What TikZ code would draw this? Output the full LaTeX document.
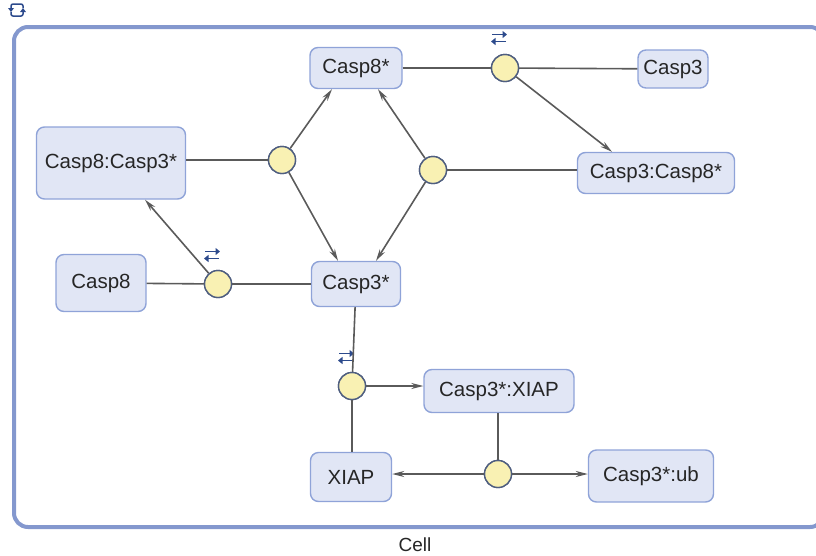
\documentclass[tikz,border=0pt]{standalone}
\usepackage{fontspec}
\setmainfont{Liberation Sans}
\usetikzlibrary{arrows.meta}
\definecolor{spfill}{HTML}{E1E6F5}
\definecolor{spdraw}{HTML}{8FA3D8}
\definecolor{prfill}{HTML}{F9F1B3}
\definecolor{prdraw}{HTML}{4F5E80}
\definecolor{compdraw}{HTML}{8498CE}
\definecolor{edgec}{HTML}{5A5A5A}
\definecolor{iconc}{HTML}{2C4A8C}
\tikzset{
  species/.style={draw=spdraw, fill=spfill, line width=1.4pt, rounded corners=8pt,
    inner sep=0pt, font=\fontsize{20.5}{24}\selectfont, text=black!85},
  proc/.style={circle, draw=prdraw, fill=prfill, line width=1.4pt, minimum size=27pt, inner sep=0pt},
  link/.style={draw=edgec, line width=1.6pt},
  prod/.style={link, -{Stealth[length=12pt,width=6pt]}},
  revicon/.pic={
    \draw[iconc, line width=1.8pt, -{Triangle[length=4.5pt,width=7pt]}] (-7,-3.5) -- (8,-3.5);
    \draw[iconc, line width=1.8pt, -{Triangle[length=4.5pt,width=7pt]}] (7,3.5) -- (-8,3.5);
  }
}
\begin{document}
\begin{tikzpicture}[x=1pt,y=-1pt]
\useasboundingbox (0,0) rectangle (816,555);
% compartment
\draw[compdraw, line width=4pt, rounded corners=14pt] (14,27) rectangle (824,527);
\node[font=\fontsize{19}{22}\selectfont, text=black!85] (cell) at (415,545) {Cell};
% top-left icon
\draw[iconc, line width=1.5pt, rounded corners=2pt] (11,12) -- (11,16) -- (23,16) -- (23,12);
\draw[iconc, line width=1.5pt, rounded corners=2pt] (23,8) -- (23,4) -- (11,4) -- (11,8);
\fill[iconc] (8,8) -- (14,8) -- (11,12) -- cycle;
\fill[iconc] (20,12) -- (26,12) -- (23,8) -- cycle;
% species
\node[species, minimum width=92pt, minimum height=41pt] (c8s) at (356,68) {Casp8*};
\node[species, minimum width=70pt, minimum height=38pt] (c3) at (673,69) {Casp3};
\node[species, minimum width=149pt, minimum height=72pt] (c8c3s) at (111,163) {Casp8:Casp3*};
\node[species, minimum width=157pt, minimum height=41pt] (c3c8s) at (656,173) {Casp3:Casp8*};
\node[species, minimum width=90pt, minimum height=57pt] (c8) at (101,283) {Casp8};
\node[species, minimum width=89pt, minimum height=45pt] (c3s) at (356,284) {Casp3*};
\node[species, minimum width=150pt, minimum height=43pt] (c3sx) at (499,391) {Casp3*:XIAP};
\node[species, minimum width=81pt, minimum height=49pt] (xiap) at (351,477) {XIAP};
\node[species, minimum width=125pt, minimum height=52pt] (c3sub) at (651,476) {Casp3*:ub};
% processes
\node[proc] (p1) at (505,68) {};
\node[proc] (p2) at (282,160) {};
\node[proc] (p3) at (433,170) {};
\node[proc] (p4) at (218,284) {};
\node[proc] (p5) at (352,386) {};
\node[proc] (p6) at (498,474) {};
% reversible icons
\pic at (499,38) {revicon};
\pic at (212,255) {revicon};
\pic at (346,357) {revicon};
% edges
\draw[link] (c8s) -- (p1);
\draw[link] (p1) -- (c3);
\draw[prod] (p1) -- ([xshift=-44pt]c3c8s.north);
\draw[link] (p2) -- (c8c3s.east |- p2);
\draw[prod] (p2) -- ([xshift=-24pt]c8s.south);
\draw[prod] (p2) -- ([xshift=-18pt]c3s.north);
\draw[link] (p3) -- (c3c8s.west |- p3);
\draw[prod] (p3) -- ([xshift=22pt]c8s.south);
\draw[prod] (p3) -- ([xshift=20pt]c3s.north);
\draw[link] (c8) -- (p4);
\draw[link] (p4) -- (c3s);
\draw[prod] (p4) -- ([xshift=34pt]c8c3s.south);
\draw[link] (c3s) -- (p5);
\draw[link] (xiap.north -| p5) -- (p5);
\draw[prod] (p5) -- (c3sx.west |- p5);
\draw[link] (c3sx.south -| p6) -- (p6);
\draw[prod] (p6) -- (xiap.east |- p6);
\draw[prod] (p6) -- (c3sub.west |- p6);
% redraw processes on top
\node[proc] at (p1) {};
\node[proc] at (p2) {};
\node[proc] at (p3) {};
\node[proc] at (p4) {};
\node[proc] at (p5) {};
\node[proc] at (p6) {};
\end{tikzpicture}
\end{document}
